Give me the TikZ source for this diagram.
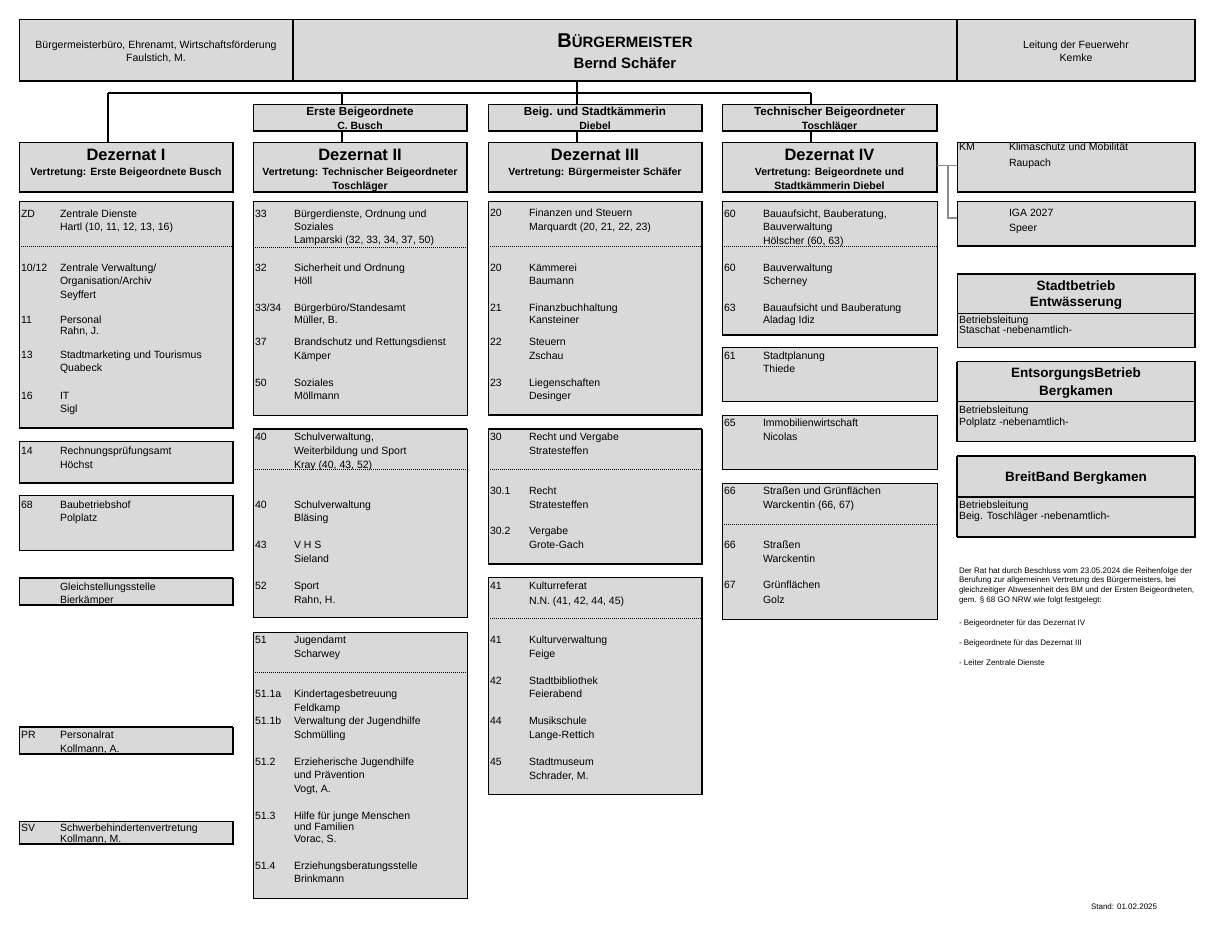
\documentclass[tikz,border=0pt]{standalone}
\usepackage{fontspec}
\setmainfont{Liberation Sans}
\definecolor{boxgray}{HTML}{D9D9D9}
\definecolor{conngray}{HTML}{8C8C8C}
\newcounter{tn}
\newcommand\myfs[2]{\fontsize{#1}{#2}\selectfont}
\tikzset{
  box/.style={rectangle, draw=black, fill=boxgray, line width=0.8pt, inner sep=0pt, outer sep=0pt, anchor=north west},
  shadowedge/.style={line width=1.8pt},
  sepline/.style={line width=0.9pt, dash pattern=on 1pt off 1pt},
  divline/.style={line width=1.8pt},
  txt/.style={anchor=base west, inner sep=0pt, outer sep=0pt, font=\myfs{10.5}{12}},
  ctxt/.style={anchor=base, inner sep=0pt, outer sep=0pt, font=\myfs{10.5}{12}},
  btxt/.style={anchor=base, inner sep=0pt, outer sep=0pt, font=\myfs{10.5}{12}\bfseries},
  dtitle/.style={anchor=base, inner sep=0pt, outer sep=0pt, font=\myfs{16.5}{18}\bfseries},
  btitle/.style={anchor=base, inner sep=0pt, outer sep=0pt, font=\myfs{11.7}{13}\bfseries},
  rtitle/.style={anchor=base, inner sep=0pt, outer sep=0pt, font=\myfs{13.5}{15}\bfseries},
  note/.style={anchor=base west, inner sep=0pt, outer sep=0pt, font=\myfs{8}{9}},
  conn/.style={draw=black, line width=1.3pt},
  connthick/.style={draw=black, line width=2.2pt},
  gconn/.style={draw=conngray, line width=1.4pt},
}
\newcommand\mybox[6][]{\node[box,minimum width=#5pt,minimum height=#6pt,#1] (#2) at (#3,#4) {};}
\newcommand\myshadow[1]{\draw[shadowedge] (#1.north east) -- (#1.south east) -- (#1.south west);}
\newcommand\mytop[1]{\draw[shadowedge] (#1.north west) -- (#1.north east);}
\newcommand\mysep[2]{\draw[sepline] (#1.west |- 0,#2) -- (#1.east |- 0,#2);}
\newcommand\myent[5][13.5]{%
  \stepcounter{tn}%
  \node[txt] (n\thetn) at (#2+2,#3+4) {#4};%
  \foreach \tline [count=\i from 0] in {#5}{\node[txt] (t\thetn-\i) at (#2+41,{#3+4+\i*#1}) {\tline};}%
}
\begin{document}
\begin{tikzpicture}[x=1pt,y=-1pt]
\fill[white] (0,0) rectangle (1215,929);
\useasboundingbox (0,0) rectangle (1215,929);

% ---------- top row ----------
\mybox{buero}{19}{19}{274}{62}
\mybox{bm}{293}{19}{664}{62}
\mybox{fw}{957}{19}{238}{62}
\draw[shadowedge] (buero.south west) -- (fw.south east) -- (fw.north east);
\draw[shadowedge] (buero.north east) -- (buero.south east);
\draw[shadowedge] (bm.north east) -- (bm.south east);
\node[ctxt] (tb1) at (156,48) {Bürgermeisterbüro, Ehrenamt, Wirtschaftsförderung};
\node[ctxt] (tb2) at (156,61) {Faulstich, M.};
\node[anchor=base, inner sep=0pt, font=\bfseries] (tbm1) at (625,47.3) {\myfs{20}{22}B\myfs{15}{17}ÜRGERMEISTER};
\node[anchor=base, inner sep=0pt, font=\myfs{15}{17}\bfseries] (tbm2) at (625,68) {Bernd Schäfer};
\node[ctxt] (tf1) at (1076,48) {Leitung der Feuerwehr};
\node[ctxt] (tf2) at (1076,61) {Kemke};

% ---------- Beigeordnete ----------
\mybox{b2}{253}{104}{214}{27}\myshadow{b2}
\mybox{b3}{488}{104}{214}{27}\myshadow{b3}
\mybox{b4}{722}{104}{215}{27}\myshadow{b4}
\node[btitle] (tb2a) at (360,115.2) {Erste Beigeordnete};
\node[btxt] (tb2b) at (360,129) {C. Busch};
\node[btitle] (tb3a) at (595,115.2) {Beig. und Stadtkämmerin};
\node[btxt] (tb3b) at (595,129) {Diebel};
\node[btitle] (tb4a) at (829.5,115.2) {Technischer Beigeordneter};
\node[btxt] (tb4b) at (829.5,129) {Toschläger};

% ---------- Dezernate ----------
\mybox{d1}{19}{142}{214}{50}\myshadow{d1}
\mybox{d2}{253}{142}{214}{50}\myshadow{d2}
\mybox{d3}{488}{142}{214}{50}\myshadow{d3}
\mybox{d4}{722}{142}{215}{50}\myshadow{d4}
\node[dtitle] (td1a) at (126,160) {Dezernat I};
\node[btxt] (td1b) at (126,175) {Vertretung: Erste Beigeordnete Busch};
\node[dtitle] (td2a) at (360,160) {Dezernat II};
\node[btxt] (td2b) at (360,175) {Vertretung: Technischer Beigeordneter};
\node[btxt] (td2c) at (360,189.5) {Toschläger};
\node[dtitle] (td3a) at (595,160) {Dezernat III};
\node[btxt] (td3b) at (595,175) {Vertretung: Bürgermeister Schäfer};
\node[dtitle] (td4a) at (829.5,160) {Dezernat IV};
\node[btxt] (td4b) at (829.5,175) {Vertretung: Beigeordnete und};
\node[btxt] (td4c) at (829.5,189.5) {Stadtkämmerin Diebel};

% ---------- connectors ----------
\coordinate (jL) at (108,93);
\coordinate (j2) at (342,93);
\coordinate (jM) at (577,93);
\coordinate (j4) at (811,93);
\draw[conn] (bm.south -| jM) -- (jM);
\draw[conn] (jL) -- (j4);
\draw[connthick] (jL) -- (d1.north -| jL);
\draw[conn] (j2) -- (b2.north -| j2);
\draw[conn] (b2.south -| j2) -- (d2.north -| j2);
\draw[conn] (jM) -- (b3.north -| jM);
\draw[conn] (b3.south -| jM) -- (d3.north -| jM);
\draw[conn] (j4) -- (b4.north -| j4);
\draw[conn] (b4.south -| j4) -- (d4.north -| j4);

% ---------- Dezernat I column ----------
\mybox{zd}{19}{201}{214}{227}\myshadow{zd}\mysep{zd}{246.5}
\myent{19}{213}{ZD}{Zentrale Dienste,{Hartl (10, 11, 12, 13, 16)}}
\myent{19}{267}{10/12}{Zentrale Verwaltung/,Organisation/Archiv,Seyffert}
\myent[11.5]{19}{319}{11}{Personal,{Rahn, J.}}
\myent[13]{19}{354.5}{13}{Stadtmarketing und Tourismus,Quabeck}
\myent{19}{395}{16}{IT,Sigl}
\mybox{rpa}{19}{441}{214}{42}\myshadow{rpa}
\myent{19}{450.5}{14}{Rechnungsprüfungsamt,Höchst}
\mybox{bbh}{19}{495}{214}{55}
\draw[shadowedge] (bbh.north east) -- (bbh.south east);
\myent[13]{19}{504}{68}{Baubetriebshof,Polplatz}
\mybox{gls}{19}{578}{214}{27}\myshadow{gls}\mytop{gls}
\myent[13]{19}{586}{}{Gleichstellungsstelle,Bierkämper}
\mybox{pr}{19}{727}{214}{27}\myshadow{pr}\mytop{pr}
\myent[14]{19}{734}{PR}{Personalrat,{Kollmann, A.}}
\mybox{sv}{19}{821}{214}{23}\myshadow{sv}
\myent[11]{19}{827}{SV}{Schwerbehindertenvertretung,{Kollmann, M.}}

% ---------- Dezernat II column ----------
\mybox{b33}{253}{201}{214}{214}\mysep{b33}{247}
\myent[13]{253}{213}{33}{{Bürgerdienste, Ordnung und},Soziales,{Lamparski (32, 33, 34, 37, 50)}}
\myent[13]{253}{267}{32}{Sicherheit und Ordnung,Höll}
\myent[12]{253}{307}{33/34}{Bürgerbüro/Standesamt,{Müller, B.}}
\myent[14]{253}{341}{37}{Brandschutz und Rettungsdienst,Kämper}
\myent[13.5]{253}{382}{50}{Soziales,Möllmann}
\mybox{b40}{253}{429}{214}{188}\mytop{b40}\mysep{b40}{469}
\myent[14]{253}{436}{40}{{Schulverwaltung,},Weiterbildung und Sport,{Kray (40, 43, 52)}}
\myent[13.5]{253}{504}{40}{Schulverwaltung,Bläsing}
\myent[14]{253}{544}{43}{V H S,Sieland}
\myent[14]{253}{585}{52}{Sport,{Rahn, H.}}
\mybox{b51}{253}{632}{214}{266}\mysep{b51}{672}
\myent[14]{253}{639}{51}{Jugendamt,Scharwey}
\myent[14]{253}{693}{51.1a}{Kindertagesbetreuung,Feldkamp}
\myent[14]{253}{720}{51.1b}{Verwaltung der Jugendhilfe,Schmülling}
\myent[13.5]{253}{761}{51.2}{Erzieherische Jugendhilfe,und Prävention,{Vogt, A.}}
\myent[11.8]{253}{815}{51.3}{Hilfe für junge Menschen,und Familien,{Vorac, S.}}
\myent[13]{253}{865}{51.4}{Erziehungsberatungsstelle,Brinkmann}

% ---------- Dezernat III column ----------
\mybox{b20}{488}{201}{214}{214}\myshadow{b20}\mysep{b20}{246.5}
\myent[14]{488}{212.5}{20}{Finanzen und Steuern,{Marquardt (20, 21, 22, 23)}}
\myent[13.5]{488}{267}{20}{Kämmerei,Baumann}
\myent[12]{488}{307}{21}{Finanzbuchhaltung,Kansteiner}
\myent[14]{488}{341}{22}{Steuern,Zschau}
\myent[13.5]{488}{382}{23}{Liegenschaften,Desinger}
\mybox{b30}{488}{429}{214}{135}\myshadow{b30}\mytop{b30}\mysep{b30}{469.5}
\myent[14.5]{488}{436}{30}{Recht und Vergabe,Stratesteffen}
\myent[14]{488}{490}{30.1}{Recht,Stratesteffen}
\myent[14]{488}{530.5}{30.2}{Vergabe,Grote-Gach}
\mybox{b41}{488}{577.5}{214}{217}\myshadow{b41}\mytop{b41}\mysep{b41}{618}
\myent[15]{488}{585}{41}{Kulturreferat,{N.N. (41, 42, 44, 45)}}
\myent[14]{488}{639}{41}{Kulturverwaltung,Feige}
\myent[13]{488}{680}{42}{Stadtbibliothek,Feierabend}
\myent[14]{488}{720}{44}{Musikschule,Lange-Rettich}
\myent[14]{488}{761}{45}{Stadtmuseum,{Schrader, M.}}

% ---------- Dezernat IV column ----------
\mybox{b60}{722}{201}{215}{134}\mysep{b60}{246.5}
\draw[shadowedge] (b60.south west) -- (b60.south east);
\myent[13.5]{722}{213}{60}{{Bauaufsicht, Bauberatung,},Bauverwaltung,{Hölscher (60, 63)}}
\myent[13.5]{722}{267}{60}{Bauverwaltung,Scherney}
\myent[12]{722}{307}{63}{Bauaufsicht und Bauberatung,Aladag Idiz}
\mybox{b61}{722}{347.5}{215}{54}
\myent[13]{722}{355}{61}{Stadtplanung,Thiede}
\mybox{b65}{722}{415.5}{215}{54}
\myent[14]{722}{422.5}{65}{Immobilienwirtschaft,Nicolas}
\mybox{b66}{722}{483}{215}{136}\mysep{b66}{524}
\myent[14]{722}{490}{66}{Straßen und Grünflächen,{Warckentin (66, 67)}}
\myent[14]{722}{544}{66}{Straßen,Warckentin}
\myent[15]{722}{584}{67}{Grünflächen,Golz}

% ---------- right column ----------
\mybox{km}{957}{142}{238}{50}\myshadow{km}
\node[txt] (tkm0) at (959,150.5) {KM};
\node[txt] (tkm1) at (1009,150.5) {Klimaschutz und Mobilität};
\node[txt] (tkm2) at (1009,166.5) {Raupach};
\mybox{iga}{957}{201}{238}{45}\myshadow{iga}
\node[txt] (tiga1) at (1009,216.5) {IGA 2027};
\node[txt] (tiga2) at (1009,231) {Speer};
\coordinate (kj1) at (948,165.5);
\coordinate (kj2) at (948,218);
\draw[gconn] (d4.east |- kj1) -- (km.west |- kj1);
\draw[gconn] (kj1) -- (kj2) -- (iga.west |- kj2);

\mybox{sbe}{957}{274}{238}{73}
\draw[shadowedge] (sbe.north west) -- (sbe.north east) -- (sbe.south east);
\draw[divline] (sbe.west |- 0,313.5) -- (sbe.east |- 0,313.5);
\node[rtitle] (tsbe1) at (1076,290) {Stadtbetrieb};
\node[rtitle] (tsbe2) at (1076,306.5) {Entwässerung};
\node[txt] (tsbe3) at (959,323) {Betriebsleitung};
\node[txt] (tsbe4) at (959,333) {Staschat -nebenamtlich-};

\mybox{ebb}{957}{361.5}{238}{80}\myshadow{ebb}\mytop{ebb}
\draw[shadowedge] (ebb.north west) -- (ebb.south west);
\draw[line width=1.2pt] (ebb.west |- 0,401.5) -- (ebb.east |- 0,401.5);
\node[rtitle] (tebb1) at (1076,377.5) {EntsorgungsBetrieb};
\node[rtitle] (tebb2) at (1076,395.5) {Bergkamen};
\node[txt] (tebb3) at (959,413) {Betriebsleitung};
\node[txt] (tebb4) at (959,425.5) {Polplatz -nebenamtlich-};

\mybox{bbb}{957}{456}{238}{81}\myshadow{bbb}\mytop{bbb}
\draw[shadowedge] (bbb.north west) -- (bbb.south west);
\draw[line width=1.2pt] (bbb.west |- 0,497) -- (bbb.east |- 0,497);
\node[rtitle] (tbbb1) at (1076,481) {BreitBand Bergkamen};
\node[txt] (tbbb2) at (959,508) {Betriebsleitung};
\node[txt] (tbbb3) at (959,519.5) {Beig. Toschläger -nebenamtlich-};

% ---------- note ----------
\node[note] (nt1) at (959,573) {Der Rat hat durch Beschluss vom 23.05.2024 die Reihenfolge der};
\node[note] (nt2) at (959,582.7) {Berufung zur allgemeinen Vertretung des Bürgermeisters, bei};
\node[note] (nt3) at (959,592.4) {gleichzeitiger Abwesenheit des BM und der Ersten Beigeordneten,};
\node[note] (nt4) at (959,602) {gem. § 68 GO NRW wie folgt festgelegt:};
\node[note] (nt5) at (959,625) {- Beigeordneter für das Dezernat IV};
\node[note] (nt6) at (959,645) {- Beigeordnete für das Dezernat III};
\node[note] (nt7) at (959,665) {- Leiter Zentrale Dienste};
\node[note] (stand) at (1091,909.6) {Stand: 01.02.2025};
\end{tikzpicture}
\end{document}
